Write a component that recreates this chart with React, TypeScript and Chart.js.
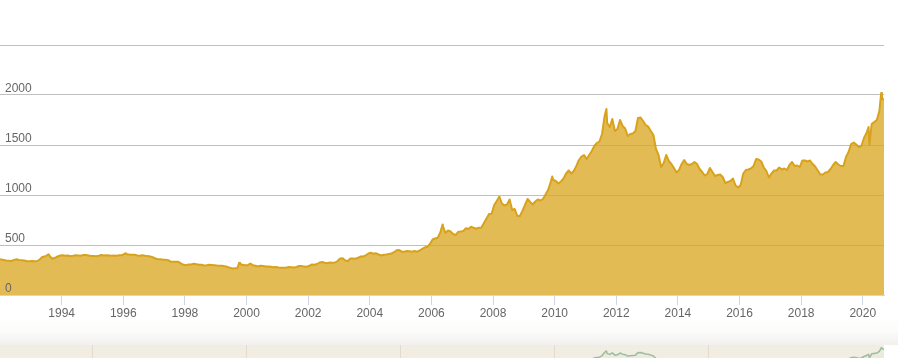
import React, { useEffect, useRef } from 'react';
import { Chart, registerables } from 'chart.js';

Chart.register(...registerables);

const FONT = '"Liberation Sans", Arial, sans-serif';

const xTickYears = [1994, 1996, 1998, 2000, 2002, 2004, 2006, 2008, 2010, 2012, 2014, 2016, 2018, 2020];
const yGridValues = [0, 500, 1000, 1500, 2000, 2500];
const yLabelValues = [0, 500, 1000, 1500, 2000];
const navGridYears = [1995, 2000, 2005, 2010, 2015];

const dates: string[] = [
  '1992-01-01', '1992-01', '1992-02', '1992-03', '1992-04', '1992-05', '1992-06', '1992-07', '1992-08', '1992-09', '1992-10', '1992-11', '1992-12',
  '1993-01', '1993-02', '1993-03', '1993-04', '1993-05', '1993-06', '1993-07', '1993-07-30', '1993-08', '1993-09', '1993-10', '1993-11', '1993-12',
  '1994-01', '1994-02', '1994-03', '1994-04', '1994-05', '1994-06', '1994-07', '1994-08', '1994-09', '1994-10', '1994-11', '1994-12',
  '1995-01', '1995-02', '1995-03', '1995-04', '1995-05', '1995-06', '1995-07', '1995-08', '1995-09', '1995-10', '1995-11', '1995-12',
  '1996-01', '1996-02-02', '1996-02', '1996-03', '1996-04', '1996-05', '1996-06', '1996-07', '1996-08', '1996-09', '1996-10', '1996-11', '1996-12',
  '1997-01', '1997-02', '1997-03', '1997-04', '1997-05', '1997-06', '1997-07', '1997-08', '1997-09', '1997-10', '1997-11', '1997-12',
  '1998-01', '1998-02', '1998-03', '1998-04', '1998-05', '1998-06', '1998-07', '1998-08', '1998-09', '1998-10', '1998-11', '1998-12',
  '1999-01', '1999-02', '1999-03', '1999-04', '1999-05', '1999-06', '1999-07', '1999-08', '1999-09', '1999-10-05', '1999-10', '1999-11', '1999-12',
  '2000-01', '2000-02', '2000-03', '2000-04', '2000-05', '2000-06', '2000-07', '2000-08', '2000-09', '2000-10', '2000-11', '2000-12',
  '2001-01', '2001-02', '2001-03', '2001-04', '2001-05', '2001-06', '2001-07', '2001-08', '2001-09', '2001-10', '2001-11', '2001-12',
  '2002-01', '2002-02', '2002-03', '2002-04', '2002-05', '2002-06', '2002-07', '2002-08', '2002-09', '2002-10', '2002-11', '2002-12',
  '2003-01', '2003-02', '2003-03', '2003-04', '2003-05', '2003-06', '2003-07', '2003-08', '2003-09', '2003-10', '2003-11', '2003-12',
  '2004-01', '2004-02', '2004-03', '2004-04', '2004-05', '2004-06', '2004-07', '2004-08', '2004-09', '2004-10', '2004-11', '2004-12',
  '2005-01', '2005-02', '2005-03', '2005-04', '2005-05', '2005-06', '2005-07', '2005-08', '2005-09', '2005-10', '2005-11', '2005-12',
  '2006-01', '2006-02', '2006-03', '2006-04', '2006-05-12', '2006-05', '2006-06', '2006-07', '2006-08', '2006-09', '2006-10', '2006-11', '2006-12',
  '2007-01', '2007-02', '2007-03', '2007-04', '2007-05', '2007-06', '2007-07', '2007-08', '2007-09', '2007-10', '2007-11', '2007-12',
  '2008-01', '2008-02', '2008-03', '2008-04', '2008-05', '2008-06', '2008-07', '2008-08', '2008-09', '2008-10', '2008-11', '2008-12',
  '2009-01', '2009-02', '2009-03', '2009-04', '2009-05', '2009-06', '2009-07', '2009-08', '2009-09', '2009-10', '2009-11', '2009-12-03', '2009-12',
  '2010-01', '2010-02', '2010-03', '2010-04', '2010-05', '2010-06', '2010-07', '2010-08', '2010-09', '2010-10', '2010-11', '2010-12',
  '2011-01', '2011-02', '2011-03', '2011-04', '2011-05', '2011-06', '2011-07', '2011-08', '2011-09-06', '2011-09', '2011-10', '2011-11', '2011-12',
  '2012-01', '2012-02', '2012-03', '2012-04', '2012-05', '2012-06', '2012-07', '2012-08', '2012-09', '2012-10', '2012-11', '2012-12',
  '2013-01', '2013-02', '2013-03', '2013-04', '2013-05', '2013-06', '2013-07', '2013-08', '2013-09', '2013-10', '2013-11', '2013-12',
  '2014-01', '2014-02', '2014-03', '2014-04', '2014-05', '2014-06', '2014-07', '2014-08', '2014-09', '2014-10', '2014-11', '2014-12',
  '2015-01', '2015-02', '2015-03', '2015-04', '2015-05', '2015-06', '2015-07', '2015-08', '2015-09', '2015-10', '2015-11', '2015-12',
  '2016-01', '2016-02', '2016-03', '2016-04', '2016-05', '2016-06', '2016-07', '2016-08', '2016-09', '2016-10', '2016-11', '2016-12',
  '2017-01', '2017-02', '2017-03', '2017-04', '2017-05', '2017-06', '2017-07', '2017-08', '2017-09', '2017-10', '2017-11', '2017-12',
  '2018-01', '2018-02', '2018-03', '2018-04', '2018-05', '2018-06', '2018-07', '2018-08', '2018-09', '2018-10', '2018-11', '2018-12',
  '2019-01', '2019-02', '2019-03', '2019-04', '2019-05', '2019-06', '2019-07', '2019-08', '2019-09', '2019-10', '2019-11', '2019-12',
  '2020-01', '2020-02', '2020-03-09', '2020-03-19', '2020-04', '2020-05', '2020-06', '2020-07', '2020-08-06', '2020-08', '2020-09-09',
];

const prices: number[] = [
  357, 355, 350, 345, 343, 340, 350, 357, 350, 348, 345, 338, 337,
  340, 338, 340, 355, 380, 385, 400, 407, 385, 362, 372, 385, 395,
  398, 392, 395, 388, 392, 397, 395, 392, 400, 400, 395, 390,
  390, 388, 393, 400, 395, 397, 396, 393, 394, 393, 397, 398,
  410, 418, 408, 404, 402, 402, 396, 393, 397, 392, 390, 386, 378,
  365, 358, 357, 352, 352, 348, 333, 332, 332, 332, 317, 302,
  298, 305, 305, 312, 308, 302, 302, 295, 298, 302, 300, 298,
  295, 293, 292, 288, 283, 272, 266, 267, 268, 323, 310, 303, 297,
  297, 315, 298, 292, 285, 293, 290, 285, 285, 282, 278, 280,
  275, 272, 272, 272, 280, 278, 276, 280, 290, 290, 284, 283,
  292, 305, 303, 310, 325, 330, 323, 318, 325, 323, 325, 340,
  365, 368, 345, 340, 365, 365, 362, 372, 385, 385, 397, 415,
  422, 413, 417, 405, 395, 402, 405, 410, 415, 428, 448, 450,
  433, 432, 440, 438, 432, 440, 433, 445, 462, 475, 482, 510,
  555, 565, 572, 625, 705, 690, 620, 645, 635, 610, 600, 632, 635,
  640, 668, 660, 683, 672, 662, 672, 672, 720, 765, 810, 812,
  900, 940, 985, 915, 895, 905, 955, 850, 860, 790, 790, 840,
  900, 960, 930, 905, 935, 955, 945, 960, 1005, 1050, 1130, 1185, 1150,
  1140, 1115, 1135, 1165, 1215, 1245, 1215, 1240, 1290, 1350, 1385, 1400,
  1360, 1400, 1440, 1490, 1520, 1535, 1610, 1790, 1860, 1720, 1680, 1760, 1640,
  1660, 1750, 1690, 1665, 1590, 1610, 1615, 1640, 1770, 1775, 1740, 1700,
  1683, 1640, 1600, 1460, 1400, 1280, 1320, 1400, 1340, 1310, 1270, 1225,
  1250, 1310, 1350, 1310, 1300, 1310, 1330, 1310, 1260, 1230, 1195, 1210,
  1270, 1230, 1190, 1200, 1205, 1180, 1120, 1130, 1140, 1165, 1095, 1075,
  1100, 1215, 1250, 1255, 1265, 1290, 1360, 1355, 1335, 1275, 1240, 1175,
  1215, 1245, 1245, 1275, 1255, 1265, 1250, 1300, 1330, 1290, 1295, 1280,
  1345, 1345, 1335, 1345, 1310, 1285, 1245, 1205, 1205, 1225, 1230, 1260,
  1300, 1330, 1305, 1290, 1290, 1380, 1430, 1510, 1525, 1505, 1480, 1490,
  1570, 1620, 1680, 1500, 1710, 1730, 1750, 1840, 2020, 1970, 1950,
];

function toYear(s: string): number {
  const parts = s.split('-').map(Number);
  const y = parts[0];
  const m = parts[1];
  const d = parts.length > 2 ? parts[2] : 15;
  return y + (m - 1) / 12 + (d - 1) / 365;
}

export default function App() {
  const mainRef = useRef<HTMLCanvasElement>(null);
  const navRef = useRef<HTMLCanvasElement>(null);

  useEffect(() => {
    const pts = dates.map((d, i) => ({ x: toYear(d), y: prices[i] }));
    const xMin = pts[0].x;
    const xMax = pts[pts.length - 1].x;

    const yLabelsPlugin = {
      id: 'yLabels',
      afterDraw(chart: any) {
        const ctx = chart.ctx;
        const ys = chart.scales.y;
        ctx.save();
        ctx.font = `12px ${FONT}`;
        ctx.fillStyle = '#666666';
        ctx.textBaseline = 'middle';
        ctx.textAlign = 'left';
        yLabelValues.forEach((v) => {
          ctx.fillText(String(v), 5, ys.getPixelForValue(v) - 6);
        });
        ctx.restore();
      },
    };

    const main = new Chart(mainRef.current as HTMLCanvasElement, {
      type: 'line',
      data: {
        datasets: [
          {
            data: pts,
            borderColor: '#d8a21c',
            backgroundColor: 'rgba(218,165,32,0.76)',
            borderWidth: 2,
            borderJoinStyle: 'round',
            pointRadius: 0,
            fill: 'origin',
            tension: 0,
          },
        ],
      },
      options: {
        animation: false,
        responsive: false,
        maintainAspectRatio: false,
        layout: { padding: { top: 45, right: 14, left: 0, bottom: 0 } },
        plugins: { legend: { display: false }, tooltip: { enabled: false } },
        scales: {
          x: {
            type: 'linear',
            min: xMin,
            max: xMax,
            afterBuildTicks: (s: any) => {
              s.ticks = xTickYears.map((v) => ({ value: v }));
            },
            afterFit: (s: any) => {
              s.height = 25;
            },
            ticks: {
              color: '#666666',
              font: { family: FONT, size: 12 },
              padding: 1,
              autoSkip: false,
              maxRotation: 0,
              callback: (v: any) => String(v),
            },
            grid: { drawOnChartArea: false, drawTicks: true, tickLength: 10, color: '#ccd6eb' },
            border: { color: '#ccd6eb', width: 1 },
          },
          y: {
            type: 'linear',
            min: 0,
            max: 2500,
            afterBuildTicks: (s: any) => {
              s.ticks = yGridValues.map((v) => ({ value: v }));
            },
            afterFit: (s: any) => {
              s.width = 0;
            },
            ticks: { display: false },
            grid: {
              drawTicks: false,
              color: (c: any) => (c.tick && c.tick.value === 0 ? 'rgba(0,0,0,0)' : '#c0c0c0'),
            },
            border: { display: false },
          },
        },
      },
      plugins: [yLabelsPlugin],
    } as any);

    const navBg = {
      id: 'navBg',
      beforeDraw(chart: any) {
        const { ctx, chartArea } = chart;
        ctx.save();
        ctx.fillStyle = '#f1ede3';
        ctx.fillRect(chartArea.left, chartArea.top, chartArea.right - chartArea.left, chartArea.bottom - chartArea.top);
        ctx.restore();
      },
    };

    const nav = new Chart(navRef.current as HTMLCanvasElement, {
      type: 'line',
      data: {
        datasets: [
          {
            data: pts,
            borderColor: '#9dbd9a',
            backgroundColor: 'rgba(157,189,154,0.06)',
            borderWidth: 1.5,
            borderJoinStyle: 'round',
            pointRadius: 0,
            fill: 'origin',
            tension: 0,
          },
        ],
      },
      options: {
        animation: false,
        responsive: false,
        maintainAspectRatio: false,
        layout: { padding: { top: 0, right: 14, left: 0, bottom: 0 } },
        plugins: { legend: { display: false }, tooltip: { enabled: false } },
        scales: {
          x: {
            type: 'linear',
            min: xMin,
            max: xMax,
            afterBuildTicks: (s: any) => {
              s.ticks = navGridYears.map((v) => ({ value: v }));
            },
            afterFit: (s: any) => {
              s.height = 0;
            },
            ticks: { display: false },
            grid: { drawTicks: false, color: '#e2dccd' },
            border: { display: false },
          },
          y: { type: 'linear', min: 80, max: 2170, display: false },
        },
      },
      plugins: [navBg],
    } as any);

    return () => {
      main.destroy();
      nav.destroy();
    };
  }, []);

  return (
    <div
      style={{
        position: 'fixed',
        top: 0,
        left: 0,
        width: 898,
        height: 358,
        background: '#ffffff',
        overflow: 'hidden',
      }}
    >
      <canvas ref={mainRef} width={898} height={320} style={{ position: 'absolute', top: 0, left: 0 }} />
      <div
        style={{
          position: 'absolute',
          top: 318,
          left: 0,
          width: 898,
          height: 27,
          background: 'linear-gradient(to bottom, #ffffff 0%, #fbfbfa 50%, #f1f0ed 100%)',
        }}
      />
      <canvas ref={navRef} width={898} height={40} style={{ position: 'absolute', top: 345, left: 0 }} />
    </div>
  );
}
